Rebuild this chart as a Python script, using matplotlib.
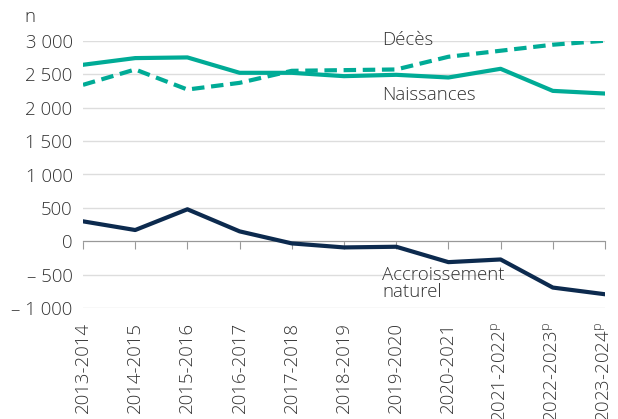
import matplotlib
matplotlib.use("Agg")
import matplotlib.pyplot as plt

plt.rcParams['font.family'] = ['Open Sans', 'DejaVu Sans']
plt.rcParams['font.weight'] = 'light'
plt.rcParams['mathtext.fontset'] = 'custom'
plt.rcParams['mathtext.rm'] = 'Open Sans:light'

periods = ["2013-2014", "2014-2015", "2015-2016", "2016-2017", "2017-2018",
           "2018-2019", "2019-2020", "2020-2021", "2021-2022$^{\\rm p}$",
           "2022-2023$^{\\rm p}$", "2023-2024$^{\\rm p}$"]
naissances = [2640, 2740, 2750, 2520, 2520, 2470, 2490, 2450, 2580, 2250, 2210]
deces = [2340, 2570, 2270, 2370, 2550, 2560, 2570, 2760, 2850, 2940, 3000]
accroissement = [300, 170, 480, 150, -30, -90, -80, -310, -270, -690, -790]
yticks = [-1000, -500, 0, 500, 1000, 1500, 2000, 2500, 3000]
ylabels = ["– 1 000", "– 500", "0", "500", "1 000", "1 500", "2 000", "2 500", "3 000"]

teal = "#00AB96"
navy = "#0C2A4E"
txt = "#333333"
fs = 13.4

fig = plt.figure(figsize=(6.18, 4.19), dpi=100)
ax = fig.add_axes([83 / 618, 1 - 308.3 / 419, (605 - 83) / 618, (308.3 - 40.7) / 419])
x = list(range(len(periods)))

ax.plot(x, naissances, color=teal, lw=3, zorder=3)
ax.plot(x, deces, color=teal, lw=3, ls=(0, (3, 1.6)), zorder=3)
ax.plot(x, accroissement, color=navy, lw=3, zorder=3)

ax.set_ylim(-1000, 3000)
ax.set_xlim(0, len(periods) - 1)
ax.set_yticks(yticks)
ax.set_yticklabels(ylabels, fontsize=fs, color=txt)
ax.tick_params(axis='y', length=0, pad=7.5)
ax.grid(axis='y', color='#dddddd', lw=1)
ax.set_axisbelow(True)
for s in ['top', 'right', 'left']:
    ax.spines[s].set_visible(False)
ax.spines['bottom'].set_position(('data', 0))
ax.spines['bottom'].set_color('#999999')
ax.set_xticks(x)
ax.tick_params(axis='x', length=6, color='#999999', labelbottom=False)

sec = ax.secondary_xaxis('bottom')
sec.set_xticks(x)
sec.set_xticklabels(periods, rotation=90, fontsize=fs, color=txt)
sec.tick_params(length=0, pad=10)
sec.spines['bottom'].set_visible(False)

fig.text(24 / 618, 1 - 22 / 419, "n", fontsize=fs, color=txt, ha='left', va='baseline')
ax.text(5.73, 2936, "Décès", fontsize=fs, color=txt, ha='left', va='baseline')
ax.text(5.73, 2113, "Naissances", fontsize=fs, color=txt, ha='left', va='baseline')
ax.text(5.73, -577, "Accroissement", fontsize=fs, color=txt, ha='left', va='baseline')
ax.text(5.73, -827, "naturel", fontsize=fs, color=txt, ha='left', va='baseline')

fig.savefig("out.png", dpi=100)
